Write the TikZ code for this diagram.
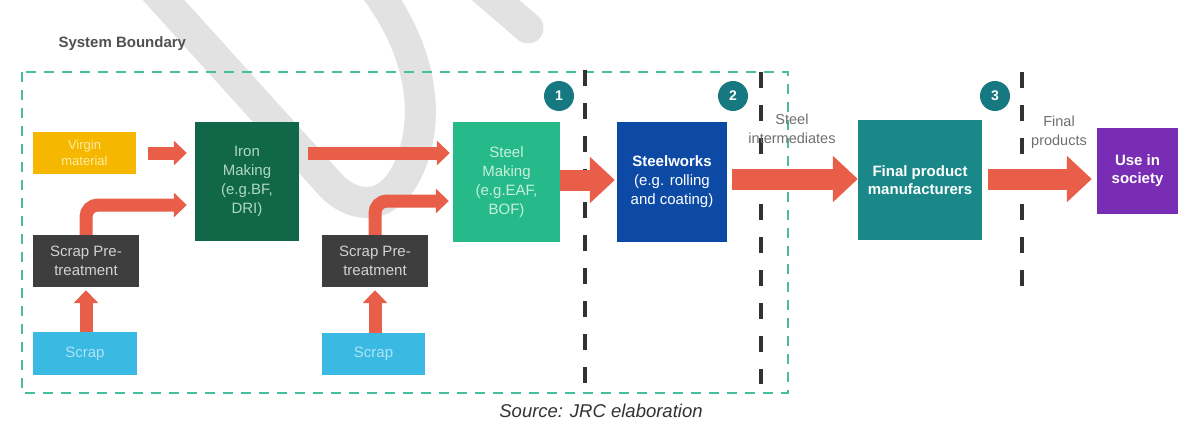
\documentclass[tikz,border=0pt]{standalone}
\usepackage{fontspec}
\setmainfont{Liberation Sans}
\usetikzlibrary{arrows.meta}

\definecolor{arrowred}{RGB}{232,94,72}
\definecolor{virginyellow}{RGB}{245,183,0}
\definecolor{irongreen}{RGB}{16,104,72}
\definecolor{pregray}{RGB}{62,62,62}
\definecolor{scrapblue}{RGB}{58,186,226}
\definecolor{steelgreen}{RGB}{38,186,138}
\definecolor{worksblue}{RGB}{12,74,166}
\definecolor{finalteal}{RGB}{26,136,136}
\definecolor{usepurple}{RGB}{120,45,180}
\definecolor{circteal}{RGB}{22,120,128}
\definecolor{boundgreen}{RGB}{70,190,160}
\definecolor{swooshgray}{RGB}{226,226,226}
\definecolor{labelgray}{RGB}{110,110,110}

\tikzset{
  box/.style={inner sep=0pt, align=center, font=\fontsize{15}{19}\selectfont},
  flow/.style={draw=arrowred, line width=13pt, -{Triangle[length=13pt,width=24pt]}},
  bigflow/.style={draw=arrowred, line width=21pt, -{Triangle[length=25pt,width=45pt]}},
  stage/.style={circle, fill=circteal, minimum size=30pt, inner sep=0pt, text=white,
    font=\fontsize{14}{14}\selectfont\bfseries},
  cutline/.style={draw={rgb,255:red,50;green,50;blue,50}, line width=3.5pt, dash pattern=on 16pt off 17pt},
  tag/.style={align=center, text=labelgray, font=\fontsize{14.5}{19}\selectfont},
}

\begin{document}
\begin{tikzpicture}[x=1pt, y=-1pt, line cap=butt]
    \useasboundingbox (0,0) rectangle (1191,423);
    \clip (0,0) rectangle (1191,423);
    % background swoosh
    \draw[swooshgray, line width=31pt, line cap=round]
      (150,-15) -- (328,182) .. controls (352,210) and (392,215) .. (412,160)
      .. controls (432,105) and (415,40) .. (372,-15);
    \draw[swooshgray, line width=31pt, line cap=round] (478,-15) -- (528,28);

    % system boundary
    \node[anchor=west, text={rgb,255:red,80;green,80;blue,80}, font=\fontsize{15}{15}\selectfont\bfseries]
      (sysb) at (55,44) {System Boundary};
    \draw[boundgreen, line width=2.5pt, dash pattern=on 10pt off 8pt] (22,72) rectangle (788,393);

    % boxes
    \node[box, fill=virginyellow, minimum width=103pt, minimum height=42pt, text={rgb,255:red,255;green,236;blue,160},
      font=\fontsize{13}{16}\selectfont] (virgin) at (84.5,153) {Virgin\\material};
    \node[box, fill=irongreen, minimum width=104pt, minimum height=119pt, text={rgb,255:red,175;green,215;blue,195}]
      (iron) at (247,181.5) {Iron\\Making\\(e.g.BF,\\DRI)};
    \node[box, fill=pregray, minimum width=106pt, minimum height=52pt, text={rgb,255:red,210;green,210;blue,210}]
      (pre1) at (86,261) {Scrap Pre-\\treatment};
    \node[box, fill=scrapblue, minimum width=104pt, minimum height=43pt, text={rgb,255:red,175;green,228;blue,245}]
      (scrap1) at (85,353.5) {Scrap};
    \node[box, fill=pregray, minimum width=106pt, minimum height=52pt, text={rgb,255:red,210;green,210;blue,210}]
      (pre2) at (375,261) {Scrap Pre-\\treatment};
    \node[box, fill=scrapblue, minimum width=103pt, minimum height=42pt, text={rgb,255:red,175;green,228;blue,245}]
      (scrap2) at (373.5,354) {Scrap};
    \node[box, fill=steelgreen, minimum width=107pt, minimum height=120pt, text={rgb,255:red,200;green,240;blue,220}]
      (steel) at (506.5,182) {Steel\\Making\\(e.g.EAF,\\BOF)};
    \node[box, fill=worksblue, minimum width=110pt, minimum height=120pt, text=white]
      (works) at (672,182) {\textbf{Steelworks}\\(e.g. rolling\\and coating)};
    \node[box, fill=finalteal, minimum width=124pt, minimum height=120pt, text=white, font=\fontsize{15}{18}\selectfont\bfseries]
      (final) at (920,180) {Final product\\manufacturers};
    \node[box, fill=usepurple, minimum width=81pt, minimum height=86pt, text=white, font=\fontsize{15}{18}\selectfont\bfseries]
      (use) at (1137.5,171) {Use in\\society};

    % stages
    \node[stage] (s1) at (559,96) {1};
    \node[stage] (s2) at (733,96) {2};
    \node[stage] (s3) at (995,96) {3};
    \draw[cutline] (585,70) -- (585,383);
    \draw[cutline] (761,72) -- (761,384);
    \draw[cutline] (1022,72) -- (1022,287);

    \node[tag] (inter) at (792,128.5) {Steel\\intermediates};
    \node[tag] (prods) at (1059,132) {Final\\products};

    % flows
    \draw[flow, shorten <=12pt, shorten >=8pt] (virgin.east) -- (iron.west |- virgin.east);
    \draw[flow, rounded corners=12pt, shorten >=8pt] (pre1.north) |- (iron.west |- 0,205);
    \draw[flow, shorten >=3pt] (pre1.south |- scrap1.north) -- (pre1.south);
    \draw[flow, shorten <=9pt, shorten >=3pt] (iron.east |- virgin.east) -- (steel.west |- virgin.east);
    \draw[flow, rounded corners=12pt, shorten >=4pt] (pre2.north) |- (steel.west |- 0,201);
    \draw[flow, shorten >=3pt] (pre2.south |- scrap2.north) -- (pre2.south);
    \draw[bigflow, shorten >=2pt] (steel.east |- 0,180) -- (works.west |- 0,180);
    \draw[bigflow, shorten <=5pt] (works.east |- 0,179) -- (final.west |- 0,179);
    \draw[bigflow, shorten <=6pt, shorten >=5pt] (final.east |- 0,179) -- (use.west |- 0,179);

    \node[text={rgb,255:red,50;green,50;blue,50}, font=\fontsize{18.5}{18.5}\selectfont\itshape]
      (src) at (601,411) {Source: JRC elaboration};
  \end{tikzpicture}
\end{document}
